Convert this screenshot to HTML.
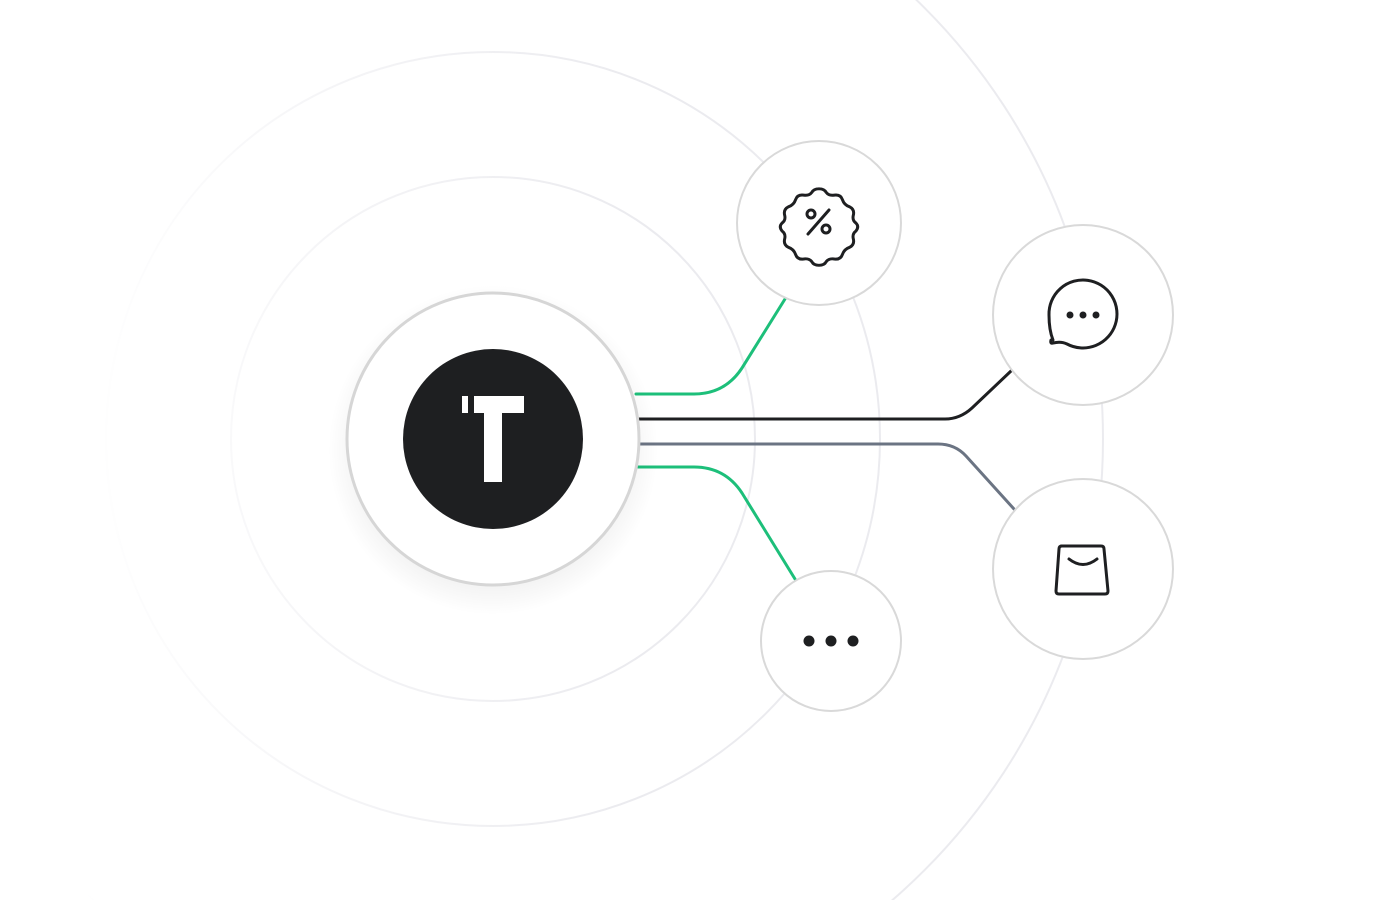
<!DOCTYPE html>
<html><head><meta charset="utf-8"><style>
html,body{margin:0;padding:0;background:#fff;width:1374px;height:900px;overflow:hidden}
svg{display:block}
</style></head><body>
<svg width="1374" height="900" viewBox="0 0 1374 900" xmlns="http://www.w3.org/2000/svg">
<defs>
<linearGradient id="rg" gradientUnits="userSpaceOnUse" x1="80" y1="0" x2="620" y2="0">
<stop offset="0" stop-color="#ebebef" stop-opacity="0"/><stop offset="0.45" stop-color="#ebebef" stop-opacity="0.5"/><stop offset="1" stop-color="#ebebef"/>
</linearGradient>
<linearGradient id="hl" x1="0" x2="1"><stop offset="0" stop-color="#ececec" stop-opacity="0"/><stop offset="1" stop-color="#e6e6e6"/></linearGradient>
<radialGradient id="sh" cx="0.5" cy="0.5" r="0.5"><stop offset="0.7" stop-color="#000" stop-opacity="0.08"/><stop offset="1" stop-color="#000" stop-opacity="0"/></radialGradient>
</defs>
<g fill="none" stroke="url(#rg)" stroke-width="2">
<circle cx="493" cy="439" r="262"/>
<circle cx="493" cy="439" r="387"/>
<circle cx="493" cy="439" r="610"/>
</g>
<line x1="40" y1="439" x2="350" y2="439" stroke="url(#hl)" stroke-width="3"/>
<g fill="none" stroke-width="3" stroke-linecap="round">
<path d="M636 394 H694 Q725 394 742 368 L785 299" stroke="#1dbf7a"/>
<path d="M638 467 H694 Q725 467 742 493 L795 579" stroke="#1dbf7a"/>
<path d="M638 419 H945 Q960 419 972 408 L1011 371" stroke="#1e1f21"/>
<path d="M638 444 H938 Q955 444 966 456 L1014 509" stroke="#6b7483"/>
</g>
<circle cx="493" cy="450" r="165" fill="url(#sh)"/>
<circle cx="493" cy="439" r="146" fill="#fff" stroke="#d6d6d6" stroke-width="3"/>
<circle cx="493" cy="439" r="90" fill="#1e1f21"/>
<rect x="474" y="396" width="50" height="17" fill="#fff"/>
<rect x="484" y="396" width="18" height="86" fill="#fff"/>
<rect x="462" y="396" width="6" height="17" fill="#fff"/>
<g fill="#fff" stroke="#d9d9d9" stroke-width="2">
<circle cx="819" cy="223" r="82"/>
<circle cx="1083" cy="315" r="90"/>
<circle cx="1083" cy="569" r="90"/>
<circle cx="831" cy="641" r="70"/>
</g>
<g fill="none" stroke="#1e1f21" stroke-width="3" stroke-linecap="round" stroke-linejoin="round">
<g transform="translate(819 223) scale(0.9) translate(-819 -223)">
<path d="M819 185 q6 0 8 4 q3 4 9 3 q7-1 9 5 q2 6 8 8 q6 3 4 10 q-1 5 3 8 q4 4 0 9 q-4 3-3 8 q2 7-4 10 q-6 2-8 8 q-2 6-9 5 q-6-1-9 3 q-2 4-8 4 q-6 0-8-4 q-3-4-9-3 q-7 1-9-5 q-2-6-8-8 q-6-3-4-10 q1-5-3-8 q-4-5 0-9 q4-3 3-8 q-2-7 4-10 q6-2 8-8 q2-6 9-5 q6 1 9-3 q2-4 8-4z" stroke-width="3.3"/>
</g>
<line x1="808" y1="234" x2="829" y2="210"/>
<circle cx="811" cy="214" r="4"/><circle cx="826" cy="229" r="4"/>
<path d="M1053 340 q-4-10-4-25 a34 34 0 1 1 18 29 q-6-3-14-1 q-3 1-2-3z"/>
<path d="M1061 546 h40 q3 0 3 3 l4 42 q0 3-3 3 h-46 q-3 0-3-3 l3-42 q0-3 3-3z"/>
<path d="M1069 559 q14 11 28 0"/>
</g>
<g fill="#1e1f21">
<circle cx="1070" cy="315" r="3.5"/><circle cx="1083" cy="315" r="3.5"/><circle cx="1096" cy="315" r="3.5"/>
<circle cx="809" cy="641" r="5.5"/><circle cx="831" cy="641" r="5.5"/><circle cx="853" cy="641" r="5.5"/>
</g>
</svg>
</body></html>
